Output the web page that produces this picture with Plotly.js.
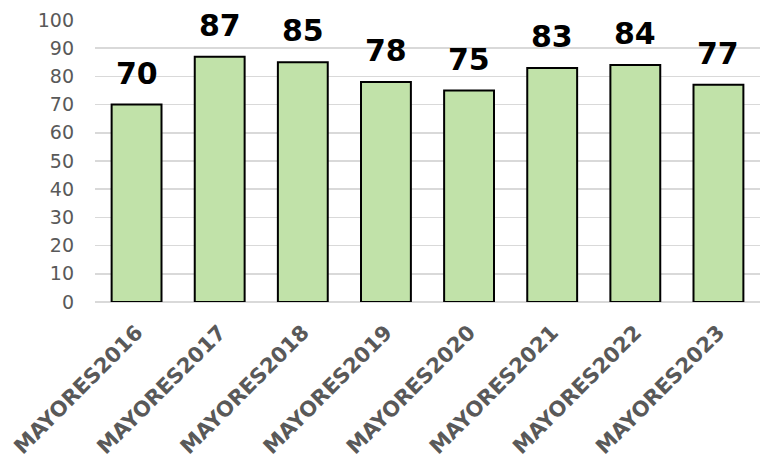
<!DOCTYPE html>
<html><head><meta charset="utf-8">
<script src="https://cdn.plot.ly/plotly-3.0.1.min.js"></script>
<style>body{margin:0;padding:0;background:#fff}#chart{width:761px;height:458px}</style>
</head><body><div id="chart"></div>
<script>
const categories = ["MAYORES2016","MAYORES2017","MAYORES2018","MAYORES2019","MAYORES2020","MAYORES2021","MAYORES2022","MAYORES2023"];
const values = [70, 87, 85, 78, 75, 83, 84, 77];
const yTicks = [0,10,20,30,40,50,60,70,80,90,100];

const trace = {
  type: 'bar', x: categories, y: values,
  marker: {color: '#c1e2a9', line: {color: '#000000', width: 2}},
  hoverinfo: 'none'
};
const annotations = categories.map((c, i) => ({
  x: c, y: values[i], xref: 'x', yref: 'y', text: String(values[i]),
  showarrow: false, yanchor: 'bottom', yshift: 12,
  font: {family: 'DejaVu Sans', size: 30, color: '#000000', weight: 'bold'}
}));
const layout = {
  width: 761, height: 458,
  margin: {l: 95, r: 1, t: 20, b: 156},
  paper_bgcolor: '#ffffff', plot_bgcolor: '#ffffff',
  showlegend: false, bargap: 0.4,
  xaxis: {
    type: 'category', tickangle: -45, showgrid: false, zeroline: false,
    tickfont: {family: 'DejaVu Sans', size: 21, color: '#595959', weight: 'bold'},
    ticks: '', showline: false, ticklabelstandoff: 13
  },
  yaxis: {
    range: [0, 100], tickvals: yTicks, ticktext: yTicks.map(String),
    showgrid: true, gridcolor: '#d9d9d9', gridwidth: 1.5,
    zeroline: true, zerolinecolor: '#d9d9d9', zerolinewidth: 2,
    tickfont: {family: 'DejaVu Sans', size: 19, color: '#595959'},
    ticks: '', ticklabelstandoff: 20, fixedrange: true
  },
  annotations: annotations
};
Plotly.newPlot('chart', [trace], layout, {displayModeBar: false, staticPlot: true});
</script></body></html>
